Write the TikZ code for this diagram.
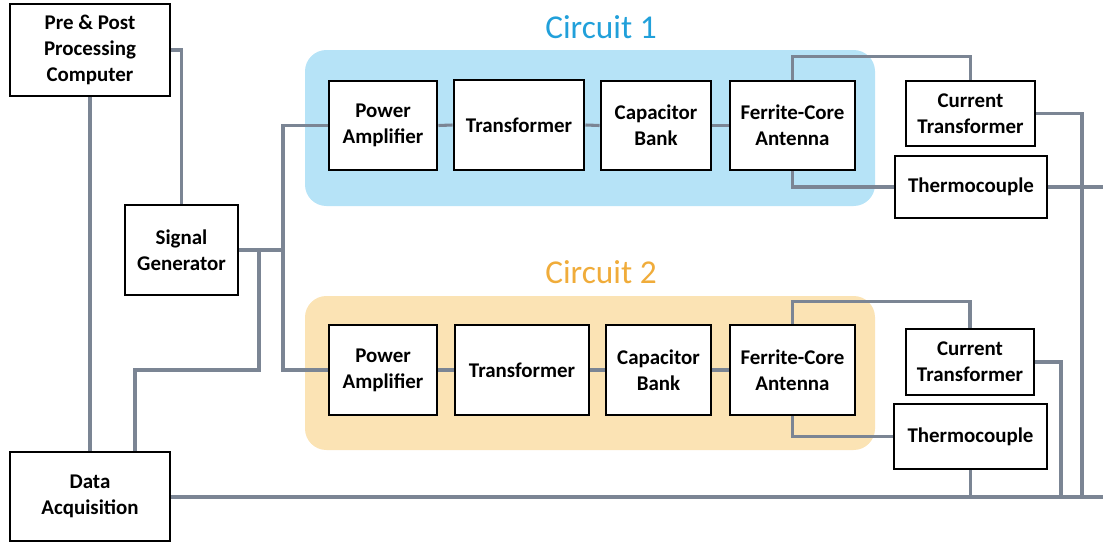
\documentclass[tikz,border=0pt]{standalone}
\usepackage{fontspec}
\setmainfont{Carlito}
\definecolor{wire}{HTML}{7B8594}
\definecolor{bluebg}{HTML}{B6E3F7}
\definecolor{orangebg}{HTML}{FBE3B4}
\definecolor{bluetxt}{HTML}{21A0DA}
\definecolor{orangetxt}{HTML}{F0AC3A}
\newcommand{\bx}[6]{\node[box, minimum width={(#4-#2)*0.75pt}, minimum height={(#5-#3)*0.75pt}] (#1) at ({(#2+#4)/2},{(#3+#5)/2}) {#6};}
\begin{document}
\begin{tikzpicture}[x=0.75pt,y=-0.75pt,
  box/.style={draw=black, line width=2.2pt, fill=white, inner sep=0pt, align=center,
    font=\fontsize{15.7pt}{19.5pt}\selectfont\bfseries},
  wireline/.style={draw=wire, line width=2.3pt},
  title/.style={font=\fontsize{25pt}{30pt}\selectfont, inner sep=0pt}]
\useasboundingbox (0,0) rectangle (1103,543);
% backgrounds
\fill[bluebg, rounded corners=16pt] (305,50) rectangle (875,206);
\fill[orangebg, rounded corners=16pt] (305,296) rectangle (875,450);
\node[title, text=bluetxt] (c1) at (601,27) {Circuit 1};
\node[title, text=orangetxt] (c2) at (601,272) {Circuit 2};
% boxes (placed first so wires can refer to them)
\bx{ppc}{10}{4}{170}{96}{Pre \& Post\\Processing\\Computer}
\bx{sg}{125}{205}{238}{295}{Signal\\Generator}
\bx{da}{10}{452}{170}{541}{Data\\Acquisition}
\bx{pa1}{329}{81}{437}{170}{Power\\Amplifier}
\bx{tr1}{454}{80}{584}{170}{Transformer}
\bx{cb1}{601}{81}{711}{170}{Capacitor\\Bank}
\bx{fa1}{730}{81}{855}{170}{Ferrite-Core\\Antenna}
\bx{ct1}{906}{81}{1035}{146}{Current\\Transformer}
\bx{tc1}{895}{156}{1047}{218}{Thermocouple}
\bx{pa2}{329}{325}{437}{415}{Power\\Amplifier}
\bx{tr2}{455}{325}{589}{415}{Transformer}
\bx{cb2}{606}{325}{711}{415}{Capacitor\\Bank}
\bx{fa2}{730}{325}{855}{415}{Ferrite-Core\\Antenna}
\bx{ct2}{906}{329}{1034}{395}{Current\\Transformer}
\bx{tc2}{894}{404}{1047}{469}{Thermocouple}
% free ends
\coordinate (e1) at (1103,187);
\coordinate (e2) at (1103,497);
\coordinate (j1) at (283,250);
\coordinate (j2) at (259,250);
\coordinate (j3) at (135,370);
\coordinate (b1) at (1082,497);
\coordinate (b2) at (1061,497);
% wires
\draw[wireline] (ppc.east) -| (sg.north);
\draw[wireline] (ppc.south) -- (da.north);
\draw[wireline] (sg.east) -- (j1);
\draw[wireline] (j1) |- (pa1.west);
\draw[wireline] (j1) |- (pa2.west);
\draw[wireline] (j2) |- (j3) -- (da.north -| j3);
\draw[wireline] (pa1.east) -- (tr1.west);
\draw[wireline] (tr1.east) -- (cb1.west);
\draw[wireline] (cb1.east) -- (fa1.west);
\draw[wireline] (pa2.east) -- (tr2.west);
\draw[wireline] (tr2.east) -- (cb2.west);
\draw[wireline] (cb2.east) -- (fa2.west);
\draw[wireline] (fa1.north) -- ++(0,-23) -| (ct1.north);
\draw[wireline] (fa1.south) |- (tc1.west);
\draw[wireline] (ct1.east) -| (b1);
\draw[wireline] (tc1.east) -- (e1);
\draw[wireline] (fa2.north) -- ++(0,-22) -| (ct2.north);
\draw[wireline] (fa2.south) |- (tc2.west);
\draw[wireline] (ct2.east) -| (b2);
\draw[wireline] (tc2.south) -- (tc2.south |- e2);
\draw[wireline] (da.east |- e2) -- (e2);
% boxes again, on top of the wires
\bx{ppc}{10}{4}{170}{96}{Pre \& Post\\Processing\\Computer}
\bx{sg}{125}{205}{238}{295}{Signal\\Generator}
\bx{da}{10}{452}{170}{541}{Data\\Acquisition}
\bx{pa1}{329}{81}{437}{170}{Power\\Amplifier}
\bx{tr1}{454}{80}{584}{170}{Transformer}
\bx{cb1}{601}{81}{711}{170}{Capacitor\\Bank}
\bx{fa1}{730}{81}{855}{170}{Ferrite-Core\\Antenna}
\bx{ct1}{906}{81}{1035}{146}{Current\\Transformer}
\bx{tc1}{895}{156}{1047}{218}{Thermocouple}
\bx{pa2}{329}{325}{437}{415}{Power\\Amplifier}
\bx{tr2}{455}{325}{589}{415}{Transformer}
\bx{cb2}{606}{325}{711}{415}{Capacitor\\Bank}
\bx{fa2}{730}{325}{855}{415}{Ferrite-Core\\Antenna}
\bx{ct2}{906}{329}{1034}{395}{Current\\Transformer}
\bx{tc2}{894}{404}{1047}{469}{Thermocouple}
\end{tikzpicture}
\end{document}
